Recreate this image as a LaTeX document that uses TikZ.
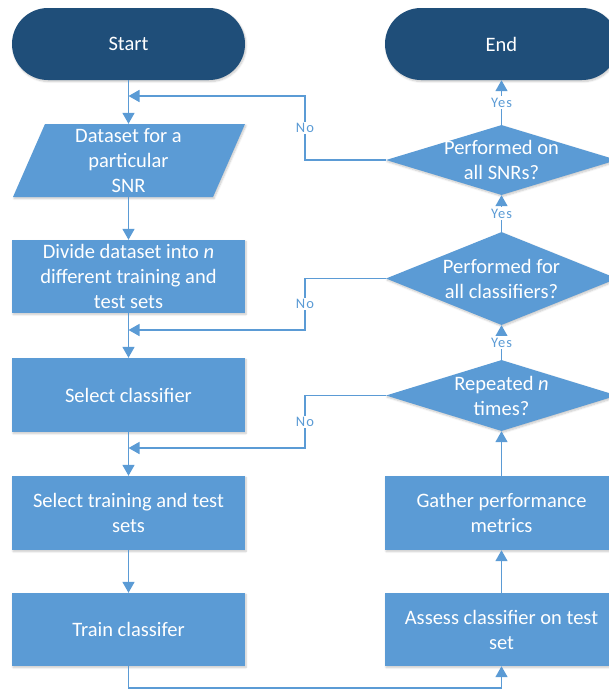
\documentclass[tikz,border=0pt]{standalone}
\usepackage{fontspec}
\setmainfont{Carlito}
\usetikzlibrary{arrows.meta,shapes.geometric,shadows.blur}
\definecolor{boxblue}{HTML}{5B9BD5}
\definecolor{darkblue}{HTML}{1F4E79}
\begin{document}
\begin{tikzpicture}[x=1pt,y=-1pt,
  shd/.style={blur shadow={shadow xshift=1pt,shadow yshift=-1.5pt,shadow blur steps=6,shadow opacity=22}},
  procbox/.style={rectangle,fill=boxblue,draw=none,minimum width=233pt,inner sep=0pt,text=white,align=center,font=\fontsize{20.5}{25}\selectfont,shd},
  termbox/.style={rectangle,rounded corners=36pt,fill=darkblue,draw=none,minimum width=233pt,minimum height=72pt,text=white,font=\fontsize{20.5}{25}\selectfont,shd},
  decbox/.style={diamond,fill=boxblue,draw=none,inner sep=0pt,minimum width=231pt,shd},
  txt/.style={text=white,align=center,font=\fontsize{20.5}{25}\selectfont,inner sep=0pt},
  plain/.style={inner sep=0pt,minimum width=233pt,minimum height=73pt,text=white,align=center,font=\fontsize{20.5}{25}\selectfont},
  conn/.style={draw=boxblue,line width=1.6pt},
  arr/.style={conn,-{Triangle[width=12pt,length=11pt]}},
  lbl/.style={fill=white,text=boxblue,inner sep=1.5pt,font=\fontsize{14.5}{16}\selectfont\addfontfeature{LetterSpace=7}}
]
\useasboundingbox (0,0) rectangle (609,691);
\clip (0,0) rectangle (609,691);

% terminals
\node[termbox] (start) at (128.5,44) {Start};
\node[termbox] (end) at (501.5,44) {End};

% parallelogram
\fill[boxblue,shd] (45,124) -- (245,124) -- (213,197) -- (13,197) -- cycle;
\node[plain] (para) at (128.5,160.5) {Dataset for a\\particular\\SNR};

% left column
\node[procbox,minimum height=73pt] (divide) at (128.5,276.5) {Divide dataset into \textit{n}\\different training and\\test sets};
\node[procbox,minimum height=74pt] (selc) at (128.5,395) {Select classifier};
\node[procbox,minimum height=74pt] (selt) at (128.5,513) {Select training and test\\sets};
\node[procbox,minimum height=73pt] (train) at (128.5,629.5) {Train classifer};

% right column
\node[procbox,minimum height=73pt] (assess) at (501.5,629.5) {Assess classifier on test\\set};
\node[procbox,minimum height=74pt] (gather) at (501.5,513) {Gather performance\\metrics};
\node[decbox,minimum height=71pt] (d3) at (501.5,395.5) {};
\node[txt] at (d3) {Repeated \textit{n}\\times?};
\node[decbox,minimum height=93pt] (d2) at (501.5,278.5) {};
\node[txt] at (d2) {Performed for\\all classifiers?};
\node[decbox,minimum height=70pt] (d1) at (501.5,160) {};
\node[txt] at (d1) {Performed on\\all SNRs?};

% junction coordinates
\coordinate (j1) at (128.5,96);
\coordinate (j2) at (128.5,330);
\coordinate (j3) at (128.5,448);
\coordinate (c1a) at (305,160);
\coordinate (c1b) at (305,96);
\coordinate (c2a) at (305,278.5);
\coordinate (c2b) at (305,330);
\coordinate (c3a) at (305,395.5);
\coordinate (c3b) at (305,448);
\coordinate (b1) at (128.5,688);
\coordinate (b2) at (501.5,688);

% main flow
\draw[arr] (start) -- (para);
\draw[arr] (para) -- (divide);
\draw[arr] (divide) -- (selc);
\draw[arr] (selc) -- (selt);
\draw[arr] (selt) -- (train);
\draw[arr] (train.south) -- (b1) -- (b2) -- (assess.south);
\draw[arr] (assess) -- (gather);
\draw[arr] (gather) -- (d3.south);
\draw[arr] (d3.north) -- node[lbl]{Yes} (d2.south);
\draw[arr] (d2.north) -- node[lbl]{Yes} (d1.south);
\draw[arr] (d1.north) -- node[lbl]{Yes} (end.south);

% No loops
\draw[arr] (d1.west) -- (c1a) -- node[lbl]{No} (c1b) -- (j1);
\draw[arr] (d2.west) -- (c2a) -- node[lbl]{No} (c2b) -- (j2);
\draw[arr] (d3.west) -- (c3a) -- node[lbl]{No} (c3b) -- (j3);
\end{tikzpicture}
\end{document}
